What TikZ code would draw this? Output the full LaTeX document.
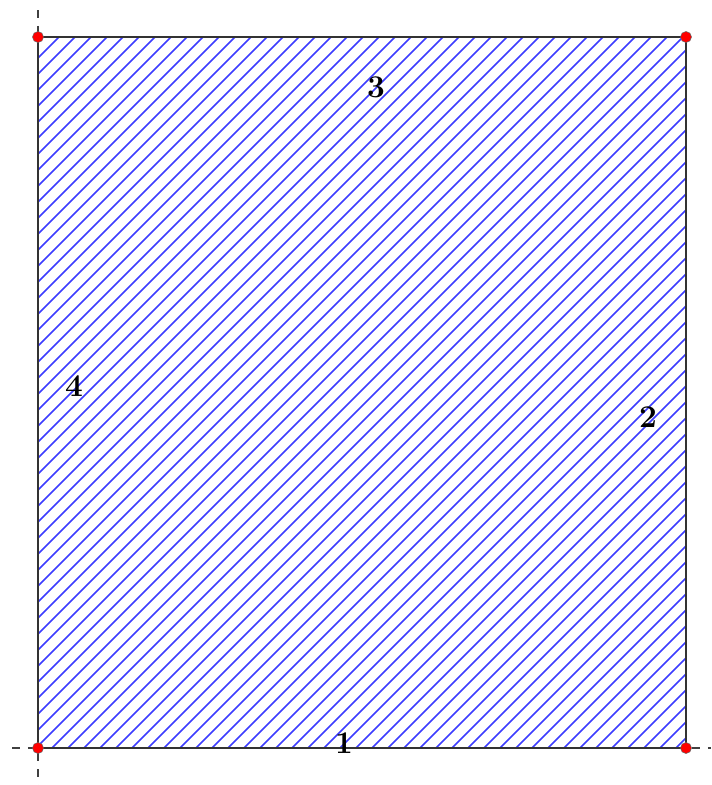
\documentclass[tikz,border=0pt]{standalone}
\usetikzlibrary{positioning}
\definecolor{hatchblue}{RGB}{60,60,255}
\tikzset{
  axisline/.style={color=black!75, line width=1.2pt, dash pattern=on 4.5pt off 4.5pt},
  edgeline/.style={color=black!80, line width=1.1pt},
  hatchline/.style={color=hatchblue, line width=0.85pt},
  vertexdot/.style={fill=red, draw=black!60, line width=0.3pt},
  sidelabel/.style={font=\fontsize{18}{20}\selectfont\bfseries, inner sep=0pt}
}
\begin{document}
\begin{tikzpicture}[x=0.02cm, y=-0.02cm]
  \useasboundingbox (0,0) rectangle (711,785);
  % axes
  \draw[axisline] (38,10)--(38,785);
  \draw[axisline] (12,748)--(711,748);
  % hatching
  \begin{scope}
    \clip (38,37) rectangle (686,748);
    \foreach \c in {64, 80, ..., 1456}
      \draw[hatchline] (\c,0)--(\c-800,800);
  \end{scope}
  \draw[edgeline] (38,37)--(686,37)--(686,748)--(38,748)--cycle;
  \foreach \p in {(38,37), (686,37), (686,748), (38,748)}
    \filldraw[vertexdot] \p circle (5.5);
  % side numbers
  \node[sidelabel] (s1) at (344,743) {1};
  \node[sidelabel] (s2) at (648,417) {2};
  \node[sidelabel] (s3) at (376,87) {3};
  \node[sidelabel] (s4) at (74,386) {4};
\end{tikzpicture}
\end{document}
